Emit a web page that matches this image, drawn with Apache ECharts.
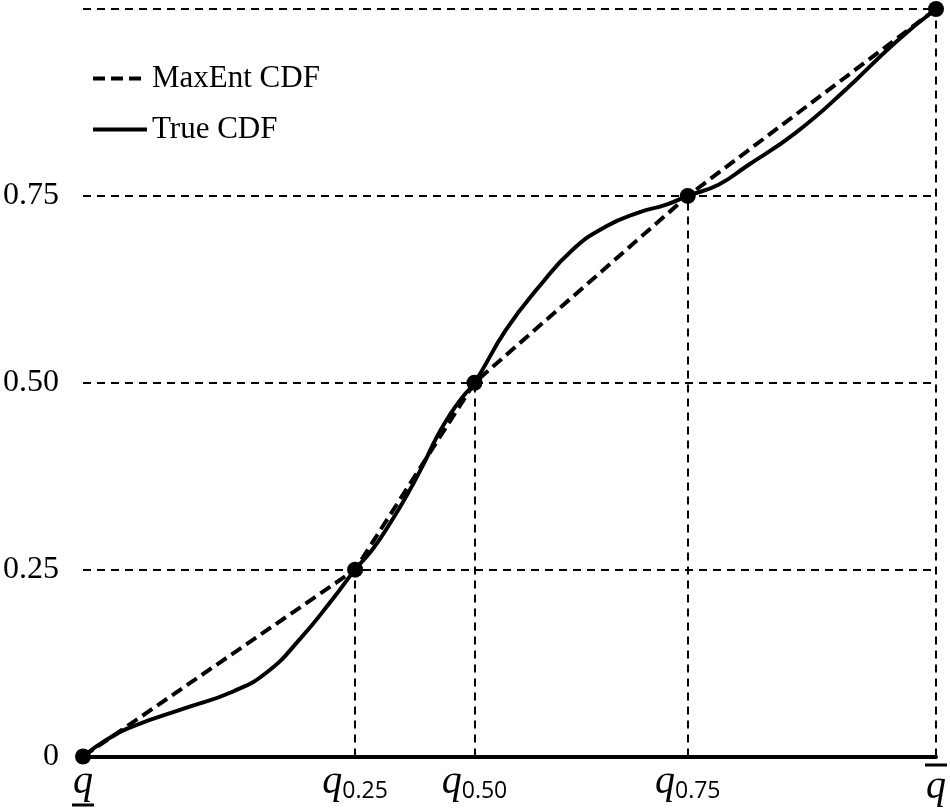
<!DOCTYPE html>
<html>
<head>
<meta charset="utf-8">
<script src="https://cdn.jsdelivr.net/npm/echarts@6/dist/echarts.min.js"></script>
<style>
  html, body { margin: 0; padding: 0; background: #fff; }
  #chart { width: 950px; height: 811px; }
</style>
</head>
<body>
<div id="chart"></div>
<script>
// quantile points (x on a 0..1 scale from q_low to q_high)
const quantileProbs = [0, 0.25, 0.5, 0.75, 1]
const quantileX = [0, 0.319, 0.459, 0.709, 1]
const quantileSubs = ['low', '0.25', '0.50', '0.75', 'high']

// true CDF
const trueX = [0, 0.030, 0.060, 0.118, 0.176, 0.216, 0.255, 0.293, 0.319,
  0.340, 0.360, 0.380, 0.400, 0.415, 0.430, 0.445, 0.459,
  0.496, 0.535, 0.574, 0.613, 0.652, 0.683, 0.709,
  0.745, 0.777, 0.835, 0.894, 0.952, 1]
const trueY = [0, 0.024, 0.041, 0.064, 0.087, 0.113, 0.158, 0.211, 0.25,
  0.278, 0.312, 0.350, 0.393, 0.428, 0.457, 0.481, 0.5,
  0.571, 0.629, 0.678, 0.709, 0.728, 0.738, 0.75,
  0.765, 0.789, 0.834, 0.892, 0.955, 1]

const yTicks = [0, 0.25, 0.5, 0.75]

const serif = '"Liberation Serif", "DejaVu Serif", serif'
const black = '#000'

const pointData = quantileX.map((x, i) => [x, quantileProbs[i]])
const trueData = trueX.map((x, i) => [x, trueY[i]])

// dashed guides from the axis up to each quantile point
const guideLines = quantileX.map((x, i) => [
  { coord: [x, 0] },
  { coord: [x, quantileProbs[i]] }
])

const chart = echarts.init(document.getElementById('chart'))
chart.setOption({
  backgroundColor: '#fff',
  animation: false,
  grid: { left: 82, right: 13, top: 9, bottom: 53 },
  legend: {
    orient: 'vertical',
    left: 86,
    top: 58,
    itemWidth: 54,
    itemHeight: 14,
    itemGap: 20,
    data: ['MaxEnt CDF', 'True CDF'],
    textStyle: { fontFamily: serif, fontSize: 31, color: black },
    lineStyle: { width: 4 },
    itemStyle: { opacity: 0 }
  },
  xAxis: {
    type: 'value',
    min: 0,
    max: 1,
    axisLine: { show: true, lineStyle: { color: black, width: 4 } },
    axisTick: { show: false },
    splitLine: { show: false },
    axisLabel: {
      customValues: quantileX,
      margin: 6,
      showMinLabel: true,
      showMaxLabel: true,
      formatter: (v) => {
        const i = quantileX.indexOf(v)
        const sub = quantileSubs[i]
        if (sub === 'low') return '{q|q}\n{bar|}'
        if (sub === 'high') return '{bar|}\n{q|q}'
        return '{q|q}{s|' + sub + '}'
      },
      rich: {
        q: { fontFamily: serif, fontStyle: 'italic', fontSize: 40, lineHeight: 40, color: black, verticalAlign: 'bottom' },
        s: { fontFamily: '"Open Sans", "Noto Sans", sans-serif', fontSize: 23, lineHeight: 30, color: black, verticalAlign: 'bottom' },
        bar: { width: 22, height: 3, lineHeight: 5, backgroundColor: black, align: 'center' }
      }
    }
  },
  yAxis: {
    type: 'value',
    min: 0,
    max: 1,
    interval: 0.25,
    axisLine: { show: false },
    axisTick: { show: false },
    splitLine: { show: true, lineStyle: { color: black, width: 2, type: [8, 6] } },
    axisLabel: {
      customValues: yTicks,
      margin: 24,
      fontFamily: serif,
      fontSize: 32,
      color: black,
      padding: [0, 0, 6, 0],
      formatter: (v) => (v === 0 ? '0' : v.toFixed(2))
    }
  },
  series: [
    {
      name: 'guides',
      type: 'line',
      data: [],
      z: 1,
      markLine: {
        silent: true,
        symbol: 'none',
        label: { show: false },
        lineStyle: { color: black, width: 2, type: [8, 6] },
        data: guideLines
      }
    },
    {
      name: 'MaxEnt CDF',
      type: 'line',
      data: pointData,
      symbol: 'none',
      z: 3,
      lineStyle: { color: black, width: 4, type: [12, 6] },
      itemStyle: { color: black }
    },
    {
      name: 'True CDF',
      type: 'line',
      data: trueData,
      symbol: 'none',
      smooth: 0.5,
      z: 4,
      lineStyle: { color: black, width: 4 },
      itemStyle: { color: black }
    },
    {
      name: 'quantiles',
      type: 'scatter',
      data: pointData,
      symbol: 'circle',
      symbolSize: 16,
      z: 5,
      itemStyle: { color: black, opacity: 1 }
    }
  ]
})
</script>
</body>
</html>
